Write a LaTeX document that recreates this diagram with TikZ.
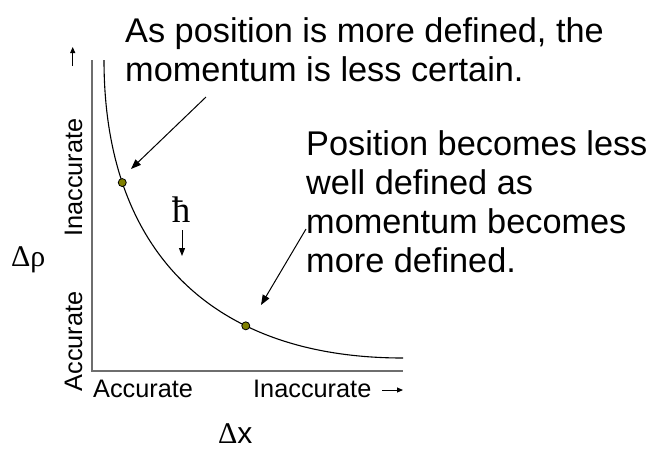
\documentclass[tikz,border=0pt]{standalone}
\usepackage{fontspec}
\setmainfont{Liberation Sans}
\newfontfamily\serifnum{Liberation Serif}
\usetikzlibrary{arrows.meta}
\definecolor{dotolive}{RGB}{128,128,0}
\definecolor{axisgray}{RGB}{110,110,110}
\tikzset{
  bigtext/.style={font=\fontsize{34.3}{38.8}\selectfont, inner sep=0pt, align=left, anchor=base west},
  axistext/.style={font=\fontsize{25.3}{28}\selectfont, inner sep=0pt},
  pointer/.style={line width=1pt, -{Triangle[length=10pt,width=7.5pt]}},
  smallarrow/.style={line width=1pt, -{Triangle[length=6pt,width=5pt]}},
  axisline/.style={line width=1.3pt, draw=axisgray},
  curve/.style={line width=1.1pt},
  dot/.style={circle, fill=dotolive, draw=black, line width=0.8pt, minimum size=8pt, inner sep=0pt}
}
\begin{document}
\begin{tikzpicture}[x=1pt,y=-1pt]
\useasboundingbox (0,0) rectangle (652,448);
% axes
\coordinate (top) at (92,60);
\coordinate (origin) at (92,371);
\coordinate (right) at (403,371);
\draw[axisline] (top) -- (origin) -- (right);
% curve
\draw[curve] (104,60) .. controls (104,250.7) and (211.6,358) .. (403,358)
  node[pos=0.24, dot] (d1) {}
  node[pos=0.68, dot] (d2) {};
% annotations (anchor = baseline of last line)
\node[bigtext] (t1) at (125,81) {As position is more defined, the\\momentum is less certain.};
\node[bigtext] (t2) at (306,272) {Position becomes less\\well defined as\\momentum becomes\\more defined.};
\coordinate (a1s) at (206,97);
\coordinate (a1e) at (131,169);
\draw[pointer] (a1s) -- (a1e);
\coordinate (a2s) at (306,229);
\coordinate (a2e) at (261,305);
\draw[pointer] (a2s) -- (a2e);
% hbar
\node[font=\serifnum\fontsize{37}{40}\selectfont, inner sep=0pt, anchor=base] (hbar) at (181,222) {ħ};
\coordinate (h1) at (182,230);
\coordinate (h2) at (182,256);
\draw[line width=1pt, -{Triangle[length=8pt,width=6pt]}] (h1) -- (h2);
% axis labels
\node[axistext, anchor=base west] (xacc) at (93,397) {Accurate};
\node[axistext, anchor=base west] (xinacc) at (253,397) {Inaccurate};
\coordinate (xa1) at (382,390);
\coordinate (xa2) at (403,390);
\draw[smallarrow] (xa1) -- (xa2);
\node[axistext, rotate=90, anchor=base] (yinacc) at (82,177.5) {Inaccurate};
\node[axistext, rotate=90, anchor=base] (yacc) at (82,341.5) {Accurate};
\coordinate (ya1) at (72.7,66);
\coordinate (ya2) at (72.7,47);
\draw[smallarrow] (ya1) -- (ya2);
% axis names
\node[font=\fontsize{30}{32}\selectfont, inner sep=0pt, anchor=base west] (dp) at (11,266) {{\serifnum Δρ}};
\node[font=\fontsize{30}{32}\selectfont, inner sep=0pt, anchor=base west] (dx) at (218,443) {{\serifnum Δ}x};
\end{tikzpicture}
\end{document}
